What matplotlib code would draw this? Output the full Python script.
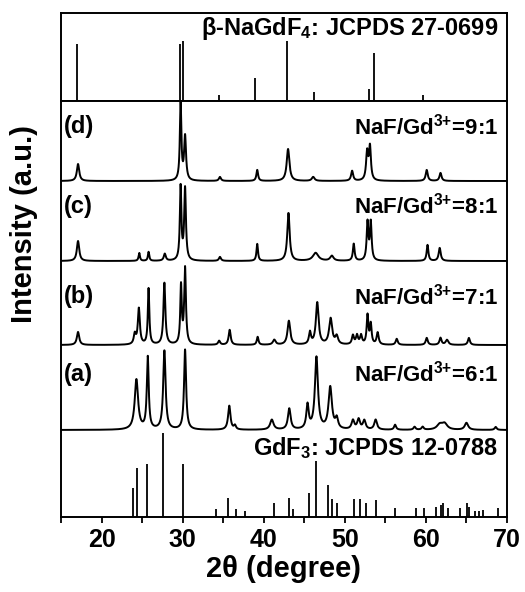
import numpy as np
import matplotlib
matplotlib.use("Agg")
import matplotlib.pyplot as plt
from matplotlib.ticker import MultipleLocator

plt.rcParams["font.family"] = ["Liberation Sans", "DejaVu Sans"]
plt.rcParams["font.weight"] = "bold"
plt.rcParams["mathtext.fontset"] = "custom"
plt.rcParams["mathtext.rm"] = "Liberation Sans:bold"
plt.rcParams["mathtext.it"] = "Liberation Sans:bold"
plt.rcParams["mathtext.bf"] = "Liberation Sans:bold"

# ---------- reference sticks ----------
# beta-NaGdF4, JCPDS 27-0699 (2theta, relative height)
nagdf4_pos = [16.93, 29.67, 30.0, 34.5, 38.9, 42.83, 46.2, 53.0, 53.6, 59.7]
nagdf4_int = [57, 57, 60, 6, 23, 60, 9, 12, 48, 6]

# GdF3, JCPDS 12-0788
gdf3_pos = [23.9, 24.4, 25.57, 27.54, 30.08, 34.1, 35.6, 36.6, 37.7, 41.26,
            43.15, 43.57, 45.58, 46.44, 47.96, 48.4, 49.07, 51.17, 51.87, 52.57,
            53.8, 56.2, 58.8, 59.8, 61.3, 61.8, 62.1, 62.7, 64.2, 65.1,
            65.3, 66.05, 66.6, 67.1, 68.9]
gdf3_int = [29, 49, 53, 84, 53, 8, 19, 8, 6, 14,
            19, 8, 24, 56, 32, 18, 14, 18, 18, 14,
            17, 9, 9, 9, 10, 12, 14, 9, 9, 14,
            10, 6, 6, 7, 9]

# ---------- measured patterns: peak position, height, FWHM ----------
d_pos = [17.1, 29.75, 30.3, 34.6, 39.2, 43.0, 46.1, 50.9, 52.75, 53.1, 60.1, 61.8]
d_h   = [17, 78, 44, 4, 11, 32, 4, 10, 28, 33, 11, 8]
d_w   = [0.35, 0.22, 0.28, 0.3, 0.25, 0.4, 0.4, 0.3, 0.3, 0.28, 0.3, 0.3]

c_pos = [17.1, 24.65, 25.8, 27.8, 29.75, 30.3, 34.6, 39.2, 43.05, 46.4,
         48.4, 51.1, 52.8, 53.2, 60.2, 61.7]
c_h   = [20, 8, 9, 7, 74, 72, 4, 17, 48, 8,
         5, 17, 38, 38, 16, 13]
c_w   = [0.35, 0.2, 0.2, 0.3, 0.22, 0.25, 0.3, 0.22, 0.35, 0.8,
         0.5, 0.25, 0.25, 0.25, 0.25, 0.3]

b_pos = [17.1, 24.1, 24.6, 25.8, 27.75, 29.8, 30.3, 34.5, 35.8, 39.25,
         41.3, 43.1, 45.7, 46.6, 48.25, 49.0, 51.0, 51.5, 52.0, 52.8,
         53.2, 54.05, 56.4, 60.1, 61.8, 62.6, 65.3]
b_h   = [13, 10, 36, 56, 62, 58, 76, 4, 15, 8,
         5, 24, 12, 42, 26, 8, 9, 9, 9, 29,
         20, 12, 6, 7, 7, 5, 7]
b_w   = [0.35, 0.3, 0.3, 0.22, 0.28, 0.22, 0.25, 0.3, 0.3, 0.25,
         0.4, 0.4, 0.3, 0.4, 0.45, 0.4, 0.3, 0.3, 0.3, 0.25,
         0.25, 0.3, 0.3, 0.3, 0.3, 0.4, 0.3]

a_pos = [24.3, 25.7, 27.75, 30.3, 35.75, 36.45, 41.0, 43.15, 45.4, 46.5,
         48.2, 49.0, 51.0, 51.7, 52.4, 53.8, 56.2, 58.6, 59.6, 61.7,
         62.3, 65.0, 68.6]
a_h   = [50, 72, 79, 80, 24, 4, 10, 21, 24, 72,
         42, 10, 9, 10, 9, 10, 5, 3, 3, 5,
         6, 7, 3]
a_w   = [0.5, 0.28, 0.35, 0.3, 0.35, 0.3, 0.5, 0.4, 0.35, 0.45,
         0.5, 0.4, 0.4, 0.4, 0.4, 0.4, 0.3, 0.3, 0.3, 0.8,
         0.8, 0.5, 0.3]

offsets = {"a": 87, "b": 172, "c": 256, "d": 336}
ratios = {"a": "6:1", "b": "7:1", "c": "8:1", "d": "9:1"}
label_y = {"a": 143, "b": 220, "c": 311, "d": 390}

tt = np.linspace(15, 70, 2751)


def profile(pos, h, w):
    y = np.zeros_like(tt)
    for p, a, fw in zip(pos, h, w):
        g = fw / 2
        y += a * g**2 / ((tt - p)**2 + g**2)
    return y


fig = plt.figure(figsize=(5.25, 5.92), dpi=100)
ax_top = fig.add_axes([61/525, 1-101/592, 446/525, 88/592])
ax = fig.add_axes([61/525, 1-517/592, 446/525, 416/592])

# ---------- top panel ----------
ax_top.vlines(nagdf4_pos, 0, nagdf4_int, color="black", lw=1.3)
ax_top.set_xlim(15, 70)
ax_top.set_ylim(0, 88)
ax_top.set_xticks([])
ax_top.set_yticks([])
ax_top.text(68.9, 73, r"β-NaGdF$_4$: JCPDS 27-0699", ha="right", va="center",
            fontsize=17, weight="bold")

# ---------- bottom panel ----------
ax.vlines(gdf3_pos, 0, gdf3_int, color="black", lw=1.3)

patterns = {
    "a": (a_pos, a_h, a_w),
    "b": (b_pos, b_h, b_w),
    "c": (c_pos, c_h, c_w),
    "d": (d_pos, d_h, d_w),
}
for key, (pos, h, w) in patterns.items():
    ax.plot(tt, profile(pos, h, w) + offsets[key], color="black", lw=1.4)
    ax.text(15.3, label_y[key], f"({key})", ha="left", va="center",
            fontsize=17, weight="bold")
    ax.text(68.9, label_y[key], r"NaF/Gd$^{3{+}}$=" + ratios[key],
            ha="right", va="center", fontsize=16, weight="bold")

ax.text(68.9, 69, r"GdF$_3$: JCPDS 12-0788", ha="right", va="center",
        fontsize=17, weight="bold")

ax.set_xlim(15, 70)
ax.set_ylim(0, 416)
ax.set_yticks([])
ax.xaxis.set_major_locator(MultipleLocator(10))
ax.xaxis.set_minor_locator(MultipleLocator(5))
ax.tick_params(axis="x", which="both", direction="out", length=4, width=1.3,
               labelsize=18, pad=4)
ax.set_xlabel("2θ (degree)", fontsize=21, weight="bold", labelpad=2)

for a_ in (ax, ax_top):
    for s in a_.spines.values():
        s.set_linewidth(1.4)

fig.text(24/525, 1-224/592, "Intensity (a.u.)", rotation=90, ha="center",
         va="center", fontsize=21, weight="bold")

fig.savefig("out.png", dpi=100)
